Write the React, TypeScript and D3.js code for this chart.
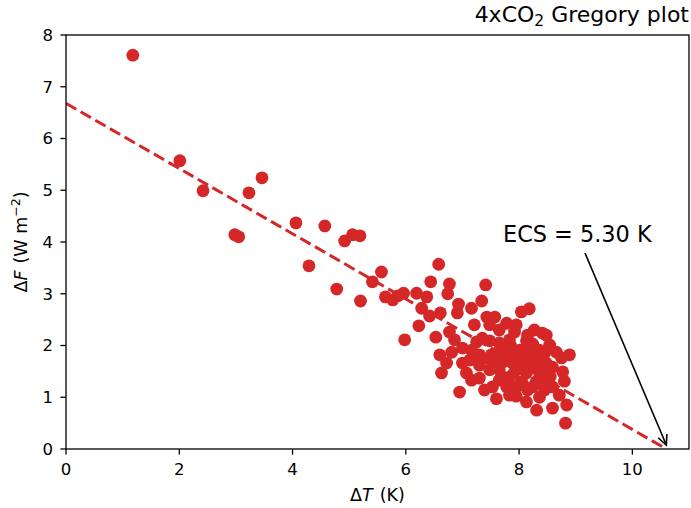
import React from "react";
import * as d3 from "d3";

// ΔT (K) values of the yearly points
const dT: number[] = [
  1.18, 2.01, 2.42, 2.98, 3.05, 3.23, 3.46, 4.06, 4.29, 4.57, 4.78, 4.92, 5.06, 5.19, 5.20,
  5.41, 5.57, 5.64, 5.77, 5.86, 5.96, 5.98, 6.19, 6.23, 6.44, 6.58, 6.77, 6.74, 7.41, 7.34,
  6.37, 6.28, 6.42, 6.61, 6.93, 6.91, 7.16, 7.43, 7.57, 8.04, 8.18, 6.53, 6.77, 7.48, 7.78,
  7.95, 8.27, 8.41, 7.35, 7.25, 7.48, 7.65, 7.83, 8.13, 8.24, 8.66, 8.89, 6.60, 6.81, 7.00,
  7.16, 7.30, 7.51, 7.65, 7.83, 8.01, 6.63, 6.72, 7.00, 7.07, 7.16, 7.30, 6.95, 7.39, 7.60,
  7.78, 7.95, 8.31, 8.59, 8.84, 8.82, 8.77, 8.80, 8.59, 8.36, 8.48, 8.24, 8.13, 7.95, 7.65,
  7.48, 7.65, 7.83, 8.06, 8.31, 8.48, 8.59, 8.24, 7.88, 7.71, 8.36, 8.45, 8.75, 8.48, 7.53,
  8.15, 8.01, 7.30, 7.13, 6.86, 7.65, 7.92, 8.10, 8.18, 7.74, 7.57, 7.92, 8.36, 8.54, 7.21,
  8.71, 8.13, 7.83, 7.90, 8.20, 8.40, 7.60, 8.05, 8.45, 7.85, 8.15, 7.70, 8.30, 7.95, 8.55,
  7.45, 8.00,
];
// ΔF (W m-2) values of the yearly points
const dF: number[] = [
  7.61, 5.57, 4.99, 4.14, 4.10, 4.95, 5.24, 4.37, 3.54, 4.31, 3.09, 4.02, 4.14, 4.12, 2.86,
  3.23, 3.42, 2.94, 2.88, 2.96, 3.01, 2.11, 3.01, 2.38, 3.23, 3.57, 3.19, 3.00, 3.17, 2.86,
  2.94, 2.72, 2.57, 2.63, 2.80, 2.63, 2.72, 2.55, 2.55, 2.65, 2.71, 2.16, 2.26, 2.40, 2.43,
  2.40, 2.30, 2.24, 2.14, 2.07, 2.09, 2.05, 2.11, 2.09, 2.03, 1.87, 1.82, 1.82, 1.87, 1.95,
  1.91, 1.82, 1.82, 1.78, 1.86, 1.91, 1.47, 1.66, 1.66, 1.47, 1.33, 1.37, 1.10, 1.14, 0.97,
  1.20, 1.02, 0.75, 0.79, 0.85, 0.50, 1.49, 1.31, 1.20, 1.00, 1.33, 1.20, 1.47, 1.53, 1.53,
  1.53, 1.33, 1.39, 1.66, 1.76, 1.66, 1.58, 1.58, 1.66, 1.68, 1.47, 1.14, 1.76, 2.20, 1.20,
  1.14, 1.24, 1.62, 1.72, 2.11, 2.30, 2.26, 1.82, 1.91, 1.91, 1.62, 1.72, 1.91, 2.01, 2.40,
  1.04, 0.91, 1.04, 1.45, 1.75, 1.55, 1.85, 1.30, 1.85, 2.00, 2.20, 1.40, 1.30, 1.20, 1.40,
  1.75, 1.60,
];

const fitIntercept = 6.68; // ΔF at ΔT = 0
const ECS = 5.3; // K, ΔT intercept = 2*ECS
const xTicks = [0, 2, 4, 6, 8, 10];
const yTicks = [0, 1, 2, 3, 4, 5, 6, 7, 8];

const W = 691;
const H = 508;
const RED = "#d62728";
const FONT = "DejaVu Sans, sans-serif";

export default function App() {
  const left = 66, right = 689, top = 35, bottom = 449;
  const x = d3.scaleLinear().domain([0, 11]).range([left, right]);
  const y = d3.scaleLinear().domain([0, 8]).range([bottom, top]);
  const xInt = 2 * ECS;
  const line = d3.line<[number, number]>().x((d) => x(d[0])).y((d) => y(d[1]));
  const fitPts: [number, number][] = [
    [0, fitIntercept],
    [xInt, 0],
  ];
  // annotation
  const tipX = x(xInt), tipY = y(0) - 4;
  const startX = 585, startY = 253;
  const ang = Math.atan2(tipY - startY, tipX - startX);
  const hl = 11, ha = 0.45;
  const h1 = [tipX - hl * Math.cos(ang - ha), tipY - hl * Math.sin(ang - ha)];
  const h2 = [tipX - hl * Math.cos(ang + ha), tipY - hl * Math.sin(ang + ha)];

  return (
    <svg
      width={W}
      height={H}
      style={{ position: "absolute", left: 0, top: 0, background: "#fff" }}
      fontFamily={FONT}
    >
      <rect width={W} height={H} fill="#fff" />
      <defs>
        <clipPath id="plotclip">
          <rect x={left} y={top} width={right - left} height={bottom - top} />
        </clipPath>
      </defs>
      <g clipPath="url(#plotclip)">
        {dT.map((t, i) => (
          <circle key={i} cx={x(t)} cy={y(dF[i])} r={6.4} fill={RED} />
        ))}
        <path
          d={line(fitPts) || ""}
          stroke={RED}
          strokeWidth={3}
          strokeDasharray="11.8 5.1"
          fill="none"
        />
      </g>
      {/* frame */}
      <rect
        x={left}
        y={top}
        width={right - left}
        height={bottom - top}
        fill="none"
        stroke="#000"
        strokeWidth={1.3}
      />
      {/* x ticks */}
      {xTicks.map((t) => (
        <g key={"x" + t}>
          <line x1={x(t)} x2={x(t)} y1={bottom} y2={bottom + 5.6} stroke="#000" strokeWidth={1.3} />
          <text x={x(t)} y={475} fontSize={16.5} textAnchor="middle" fill="#000">
            {t}
          </text>
        </g>
      ))}
      {yTicks.map((t) => (
        <g key={"y" + t}>
          <line x1={left - 5.6} x2={left} y1={y(t)} y2={y(t)} stroke="#000" strokeWidth={1.3} />
          <text x={53} y={y(t)} dy="0.36em" fontSize={16.5} textAnchor="end" fill="#000">
            {t}
          </text>
        </g>
      ))}
      {/* axis labels */}
      <text x={(left + right) / 2} y={501} fontSize={17.5} textAnchor="middle" fill="#000">
        <tspan>Δ</tspan>
        <tspan fontStyle="italic">T</tspan>
        <tspan dx="7">(K)</tspan>
      </text>
      <text
        transform={`translate(27,${(top + bottom) / 2}) rotate(-90)`}
        fontSize={17.5}
        textAnchor="middle"
        fill="#000"
      >
        <tspan>Δ</tspan>
        <tspan fontStyle="italic">F</tspan>
        <tspan dx="7">(W m</tspan>
        <tspan fontSize={12.5} dy="-7">−2</tspan>
        <tspan dy="7">)</tspan>
      </text>
      {/* title */}
      <text x={689} y={22} fontSize={22} textAnchor="end" fill="#000">
        <tspan>4xCO</tspan>
        <tspan fontSize={15.5} dy="4">2</tspan>
        <tspan dy="-4"> Gregory plot</tspan>
      </text>
      {/* annotation */}
      <text x={503} y={242} fontSize={22.4} fill="#000">
        ECS = {ECS.toFixed(2)} K
      </text>
      <line x1={startX} y1={startY} x2={tipX} y2={tipY} stroke="#000" strokeWidth={1.6} />
      <polyline
        points={`${h1[0]},${h1[1]} ${tipX},${tipY} ${h2[0]},${h2[1]}`}
        fill="none"
        stroke="#000"
        strokeWidth={1.6}
      />
    </svg>
  );
}
